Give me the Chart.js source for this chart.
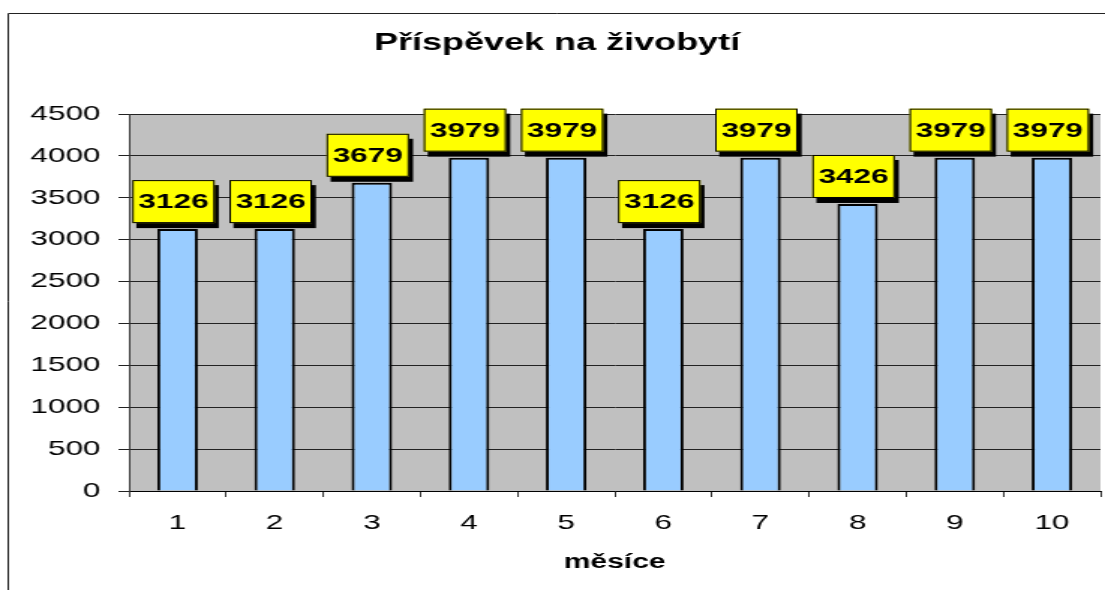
<!DOCTYPE html>
<html>
<head>
<meta charset="utf-8">
<script src="https://cdn.jsdelivr.net/npm/chart.js@4/dist/chart.umd.min.js"></script>
<style>
    html, body { margin: 0; padding: 0; background: #fff; overflow: hidden; }
    /* the reference is a horizontally stretched Excel chart, so draw narrow and stretch */
    #wrap { width: 737px; height: 590px; transform: scaleX(1.4993); transform-origin: 0 0; }
</style>
</head>
<body>
<div id="wrap"><canvas id="chart" width="737" height="590"></canvas></div>
<script>
const months = ['1', '2', '3', '4', '5', '6', '7', '8', '9', '10'];
const allowance = [3126, 3126, 3679, 3979, 3979, 3126, 3979, 3426, 3979, 3979];
const yTicks = [0, 500, 1000, 1500, 2000, 2500, 3000, 3500, 4000, 4500];

const chartTitle = 'Příspěvek na živobytí';
const xTitle = 'měsíce';

const FONT = "'Liberation Sans', Arial, sans-serif";

const frameAndPlot = {
    id: 'frameAndPlot',
    beforeDraw(chart) {
        const ctx = chart.ctx;
        const a = chart.chartArea;
        ctx.save();
        ctx.fillStyle = '#fff';
        ctx.fillRect(0, 0, chart.width, chart.height);
        ctx.strokeStyle = '#222';
        ctx.lineWidth = 1;
        ctx.beginPath();
        ctx.moveTo(5.5, chart.height);
        ctx.lineTo(5.5, 13.5);
        ctx.lineTo(chart.width, 13.5);
        ctx.stroke();
        ctx.fillStyle = '#c0c0c0';
        ctx.fillRect(a.left, a.top, a.right - a.left, a.bottom - a.top);
        ctx.restore();
    }
};

const valueBoxes = {
    id: 'valueBoxes',
    afterDatasetsDraw(chart) {
        const ctx = chart.ctx;
        const meta = chart.getDatasetMeta(0);
        const w = 55, h = 43;
        ctx.save();
        ctx.font = 'bold 21px ' + FONT;
        ctx.textAlign = 'center';
        ctx.textBaseline = 'middle';
        meta.data.forEach((bar, i) => {
            const cx = bar.x - 2.7;
            const bottom = bar.y - 6;
            const left = cx - w / 2;
            const top = bottom - h;
            ctx.fillStyle = '#000';
            ctx.fillRect(left + 2.7, top + 5, w, h);
            ctx.fillStyle = '#ffff00';
            ctx.fillRect(left, top, w, h);
            ctx.strokeStyle = '#000';
            ctx.lineWidth = 1;
            ctx.strokeRect(left + 0.5, top + 0.5, w - 1, h - 1);
            ctx.fillStyle = '#000';
            ctx.fillText(String(allowance[i]), cx, top + h / 2 + 1);
        });
        ctx.restore();
    }
};

new Chart(document.getElementById('chart'), {
    type: 'bar',
    data: {
        labels: months,
        datasets: [{
            data: allowance,
            backgroundColor: '#99ccff',
            borderColor: '#000',
            borderWidth: 2,
            borderSkipped: 'bottom',
            barPercentage: 0.417,
            categoryPercentage: 1
        }]
    },
    options: {
        responsive: false,
        animation: false,
        devicePixelRatio: 1,
        layout: { padding: { left: 9, right: 3, top: 0, bottom: 0 } },
        plugins: {
            legend: { display: false },
            tooltip: { enabled: false },
            title: {
                display: true,
                text: chartTitle,
                color: '#000',
                font: { family: FONT, size: 24, weight: 'bold' },
                padding: { top: 29, bottom: 56.2 }
            }
        },
        scales: {
            x: {
                afterFit: s => { s.height = 99; },
                grid: { drawOnChartArea: false, tickLength: 6, color: '#333' },
                border: { color: '#000', width: 1 },
                ticks: { color: '#000', font: { family: FONT, size: 21 }, padding: 14, maxRotation: 0 },
                title: {
                    display: true,
                    text: xTitle,
                    color: '#000',
                    font: { family: FONT, size: 20, weight: 'bold' },
                    padding: { top: 0, bottom: 16 }
                }
            },
            y: {
                min: 0,
                max: 4500,
                afterFit: s => { s.width = 77; },
                afterBuildTicks: s => { s.ticks = yTicks.map(v => ({ value: v })); },
                grid: { color: '#222', tickLength: 7 },
                border: { color: '#333', width: 1 },
                ticks: {
                    color: '#000',
                    font: { family: FONT, size: 21 },
                    padding: 12,
                    callback: v => String(v)
                }
            }
        }
    },
    plugins: [frameAndPlot, valueBoxes]
});
</script>
</body>
</html>
